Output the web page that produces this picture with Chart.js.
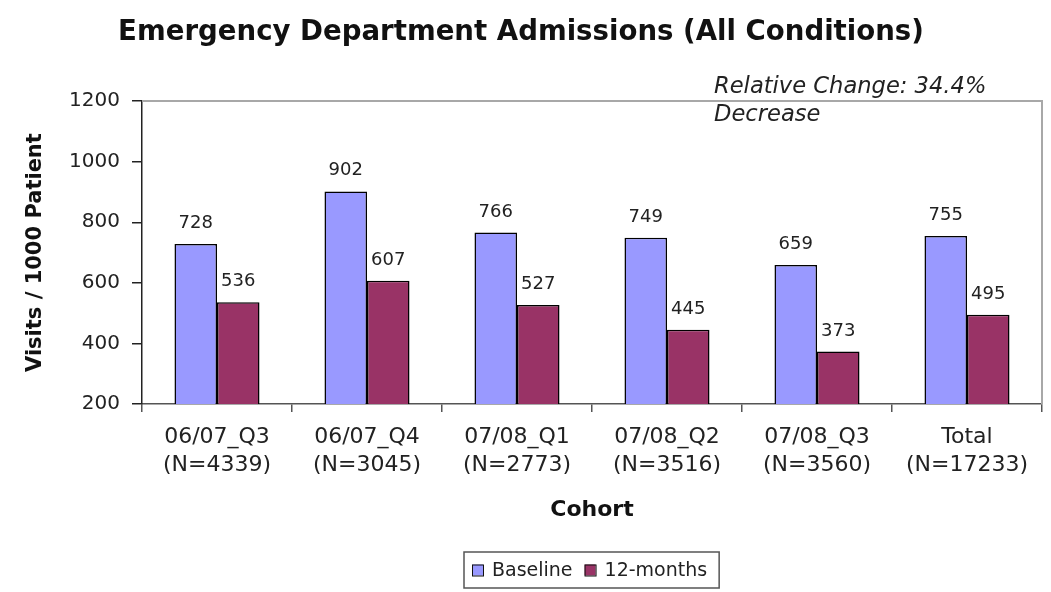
<!DOCTYPE html>
<html lang="en">
<head>
<meta charset="UTF-8">
<title>Emergency Department Admissions (All Conditions)</title>
<script src="https://cdn.jsdelivr.net/npm/chart.js"></script>
<style>
  body { margin: 0; background: #ffffff; }
  #edChart { display: block; }
</style>
</head>
<body>
<canvas id="edChart" width="1051" height="592"></canvas>

<script>
// chart data
const cohorts = [
    ['06/07_Q3', '(N=4339)'],
    ['06/07_Q4', '(N=3045)'],
    ['07/08_Q1', '(N=2773)'],
    ['07/08_Q2', '(N=3516)'],
    ['07/08_Q3', '(N=3560)'],
    ['Total', '(N=17233)']
];
const baseline = [728, 902, 766, 749, 659, 755];
const twelveMonths = [536, 607, 527, 445, 373, 495];
const yTicks = [200, 400, 600, 800, 1000, 1200];
const noteLines = ['Relative Change: 34.4%', 'Decrease'];

const FONT = '"DejaVu Sans", sans-serif';
Chart.defaults.font.family = FONT;
Chart.defaults.color = '#222';

// value labels, frame, note and boxed legend
const extras = {
    id: 'extras',
    afterDatasetsDraw(chart) {
        const ctx = chart.ctx;
        ctx.save();
        ctx.font = '18px ' + FONT;
        ctx.fillStyle = '#222';
        ctx.textAlign = 'center';
        ctx.textBaseline = 'alphabetic';
        chart.data.datasets.forEach((ds, i) => {
            chart.getDatasetMeta(i).data.forEach((bar, j) => {
                ctx.fillText(ds.data[j], bar.x, bar.y - 16);
            });
        });
        ctx.restore();
    },
    afterDraw(chart) {
        const ctx = chart.ctx;
        const area = chart.chartArea;
        ctx.save();

        // grey frame on top and right
        ctx.strokeStyle = '#a8a8a8';
        ctx.lineWidth = 2;
        ctx.beginPath();
        ctx.moveTo(area.left, area.top);
        ctx.lineTo(area.right, area.top);
        ctx.lineTo(area.right, area.bottom);
        ctx.stroke();

        // note
        ctx.font = 'italic 22.6px ' + FONT;
        ctx.fillStyle = '#222';
        ctx.textAlign = 'left';
        ctx.textBaseline = 'alphabetic';
        ctx.fillText(noteLines[0], 714, 93);
        ctx.fillText(noteLines[1], 714, 121);

        // legend with border
        ctx.font = '19px ' + FONT;
        ctx.textBaseline = 'middle';
        const items = chart.data.datasets.map(ds => ({
            text: ds.label, color: ds.backgroundColor, w: ctx.measureText(ds.label).width
        }));
        const box = 11, gap = 9, sep = 12, padL = 8, padR = 12;
        let total = padL + padR;
        items.forEach((it, i) => { total += box + gap + it.w + (i ? sep : 0); });
        const cx = (area.left + area.right) / 2;
        const lx = Math.round(cx - total / 2);
        const top = 552, h = 36, mid = top + h / 2;
        ctx.strokeStyle = '#555';
        ctx.lineWidth = 1.5;
        ctx.strokeRect(lx, top, total, h);
        let x = lx + padL;
        items.forEach((it, i) => {
            if (i) x += sep;
            ctx.fillStyle = it.color;
            ctx.fillRect(x, mid - box / 2, box, box);
            ctx.strokeStyle = '#111';
            ctx.lineWidth = 1;
            ctx.strokeRect(x + 0.5, mid - box / 2 + 0.5, box, box);
            x += box + gap;
            ctx.fillStyle = '#222';
            ctx.fillText(it.text, x, mid + 1);
            x += it.w;
        });
        ctx.restore();
    }
};

new Chart(document.getElementById('edChart'), {
    type: 'bar',
    data: {
        labels: cohorts,
        datasets: [{
            label: 'Baseline',
            data: baseline,
            backgroundColor: '#9999ff',
            borderColor: '#000',
            borderWidth: 1.5,
            categoryPercentage: 0.567,
            barPercentage: 1
        }, {
            label: '12-months',
            data: twelveMonths,
            backgroundColor: '#993366',
            borderColor: '#000',
            borderWidth: 1.5,
            categoryPercentage: 0.567,
            barPercentage: 1
        }]
    },
    options: {
        responsive: false,
        animation: false,
        layout: { padding: { top: 0, left: 0, right: 9, bottom: 60 } },
        plugins: {
            legend: { display: false },
            tooltip: { enabled: false },
            title: {
                display: true,
                text: 'Emergency Department Admissions (All Conditions)',
                color: '#111',
                font: { size: 27.6, weight: 'bold' },
                padding: { top: 16, bottom: 52 }
            }
        },
        scales: {
            x: {
                afterFit(scale) { scale.height = 128; },
                grid: { offset: true, drawOnChartArea: false, tickLength: 8, color: '#555', lineWidth: 1.5 },
                border: { color: '#555', width: 1.5 },
                ticks: { font: { size: 22, lineHeight: 1.25 }, color: '#222', padding: 12, maxRotation: 0 },
                title: {
                    display: true, text: 'Cohort', color: '#111',
                    font: { size: 22, weight: 'bold' }, padding: { bottom: 9 }
                }
            },
            y: {
                min: yTicks[0],
                max: yTicks[yTicks.length - 1],
                afterFit(scale) { scale.width = 142; },
                afterBuildTicks(scale) { scale.ticks = yTicks.map(v => ({ value: v })); },
                grid: { drawOnChartArea: false, tickLength: 10, color: '#222', lineWidth: 1.5 },
                border: { color: '#222', width: 1.5 },
                ticks: { font: { size: 20 }, color: '#222', padding: 12, callback: v => String(v) },
                title: {
                    display: true, text: 'Visits / 1000 Patient', color: '#111',
                    font: { size: 21, weight: 'bold' }, padding: { top: 23 }
                }
            }
        }
    },
    plugins: [extras]
});
</script>
</body>
</html>
